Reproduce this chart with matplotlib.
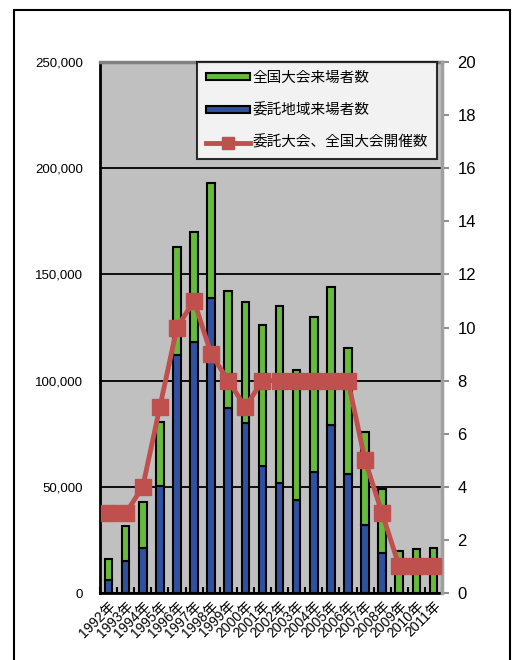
import numpy as np
import matplotlib.pyplot as plt
from matplotlib.patches import Patch, Rectangle
from matplotlib.lines import Line2D
from matplotlib.ticker import FuncFormatter, FixedLocator

plt.rcParams['font.family'] = ['Liberation Sans', 'Noto Sans CJK JP', 'DejaVu Sans']

years = [f"{y}年" for y in range(1992, 2012)]
# 委託地域来場者数 (bottom) and 全国大会来場者数 (stacked on top)
local_visitors = [6000, 15000, 21000, 50500, 112000, 118000, 138700, 87000, 80000, 60000,
                  52000, 44000, 57000, 79000, 56000, 32000, 19000, 0, 0, 0]
total_visitors = [16000, 31600, 43000, 80700, 162700, 170000, 193000, 142000, 137000, 126000,
                  135000, 105000, 130000, 144000, 115500, 76000, 49000, 20000, 20700, 21000]
national_visitors = [t - l for t, l in zip(total_visitors, local_visitors)]
events = [3, 3, 4, 7, 10, 11, 9, 8, 7, 8, 8, 8, 8, 8, 8, 5, 3, 1, 1, 1]

green = '#66bb3c'
blue = '#3050a0'
red = '#c0504d'

fig = plt.figure(figsize=(5.12, 6.6), dpi=100)
fig.patches.append(Rectangle((14 / 512, -0.01), 496 / 512, 1 - 10 / 660 + 0.01,
                             transform=fig.transFigure, fill=False,
                             edgecolor='black', lw=1.5))

ax = fig.add_axes([100 / 512, 67 / 660, 342 / 512, 531 / 660])
ax.set_facecolor('#c0c0c0')
x = np.arange(len(years))
w = 0.45
ax.bar(x, local_visitors, w, color=blue, edgecolor='black', lw=1.5, zorder=3)
ax.bar(x, national_visitors, w, bottom=local_visitors, color=green,
       edgecolor='black', lw=1.5, zorder=3)

ax.set_ylim(0, 250000)
ax.set_xlim(-0.5, len(years) - 0.5)
ax.set_yticks(np.arange(0, 250001, 50000))
ax.yaxis.set_major_formatter(FuncFormatter(lambda v, p: f"{int(v):,}"))
ax.grid(axis='y', color='black', lw=1.3, zorder=1)
ax.tick_params(axis='y', length=0, labelsize=9.5, pad=12)
ax.set_xticks(x)
ax.set_xticklabels(years, rotation=45, ha='right', rotation_mode='anchor', fontsize=10)
ax.tick_params(axis='x', length=0, pad=4)
ax.xaxis.set_minor_locator(FixedLocator(np.arange(-0.5, len(years), 1)))
ax.tick_params(axis='x', which='minor', direction='in', length=4, width=1.5, color='black')
for s in ['left', 'bottom']:
    ax.spines[s].set_linewidth(2)
    ax.spines[s].set_color('black')
ax.spines['top'].set_color('#808080')
ax.spines['top'].set_linewidth(2.5)
ax.spines['right'].set_visible(False)

ax2 = ax.twinx()
ax2.plot(x, events, color=red, lw=3.5, marker='s', markersize=11, zorder=5)
ax2.set_ylim(0, 20)
ax2.set_yticks(np.arange(0, 21, 2))
ax2.tick_params(axis='y', length=5, width=1.5, color='#909090', labelsize=12, pad=6)
ax2.spines['right'].set_color('#a0a0a0')
ax2.spines['right'].set_linewidth(2.5)
for s in ['left', 'top', 'bottom']:
    ax2.spines[s].set_visible(False)

handles = [
    Patch(facecolor=green, edgecolor='black', lw=1.5),
    Patch(facecolor=blue, edgecolor='black', lw=1.5),
    Line2D([], [], color=red, lw=3.5, marker='s', markersize=9),
]
labels = ['全国大会来場者数', '委託地域来場者数', '委託大会、全国大会開催数']
leg = ax2.legend(handles, labels, loc='upper right', bbox_to_anchor=(0.985, 1.0),
                 fontsize=10.5, frameon=True, fancybox=False, borderpad=0.6,
                 labelspacing=1.25, handlelength=3.0, handleheight=0.35,
                 handletextpad=0.2, borderaxespad=0)
leg.get_frame().set_edgecolor('black')
leg.get_frame().set_linewidth(1.5)
leg.get_frame().set_facecolor('white')

fig.savefig('out.png', dpi=100)
